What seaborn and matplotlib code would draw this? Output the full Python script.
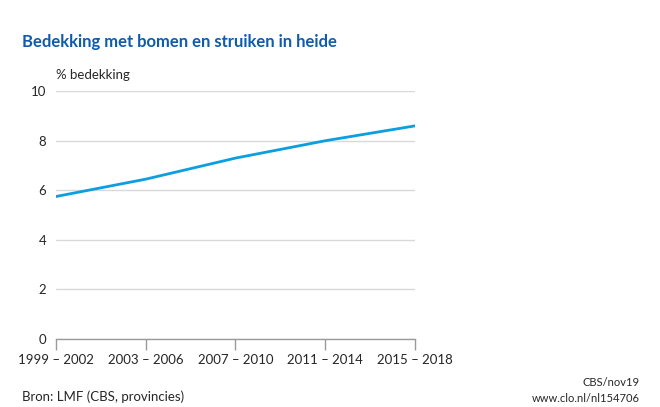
import matplotlib
matplotlib.use("Agg")
import matplotlib.pyplot as plt
import seaborn as sns
import pandas as pd

periods = ["1999 – 2002", "2003 – 2006", "2007 – 2010", "2011 – 2014", "2015 – 2018"]
coverage = [5.75, 6.45, 7.3, 8.0, 8.6]

df = pd.DataFrame({"periode": range(len(periods)), "bedekking": coverage})

sns.set_style("white")
plt.rcParams["font.family"] = ["Lato", "DejaVu Sans"]

fig = plt.figure(figsize=(6.6, 4.07), dpi=100)
ax = fig.add_axes([0.0848, 0.167, 0.544, 0.609])

sns.lineplot(data=df, x="periode", y="bedekking", ax=ax, color="#0b9ee0", linewidth=2)

ax.set_xlim(0, len(periods) - 1)
ax.set_ylim(0, 10)
ax.set_yticks([0, 2, 4, 6, 8, 10])
ax.set_xticks(range(len(periods)))
ax.set_xticklabels(periods)
ax.grid(axis="y", color="#d9d9d9", linewidth=1)
ax.grid(axis="x", visible=False)
for s in ["top", "right", "left"]:
    ax.spines[s].set_visible(False)
ax.spines["bottom"].set_color("#9a9a9a")
ax.spines["bottom"].set_linewidth(1)
ax.tick_params(axis="x", bottom=True, length=8, width=1, color="#9a9a9a", direction="out",
               labelsize=9.5, pad=3)
ax.tick_params(axis="y", left=False, length=0, labelsize=9.5, pad=7)
ax.set_xlabel("")
ax.set_ylabel("")

fig.text(22 / 660, 1 - 42 / 407, "Bedekking met bomen en struiken in heide",
         color="#0d5cad", fontsize=12, fontweight="bold", va="center")
fig.text(56 / 660, 1 - 75 / 407, "% bedekking", fontsize=9.5, va="center")
fig.text(22 / 660, 1 - 397 / 407, "Bron: LMF (CBS, provincies)", fontsize=9.5, va="center")
fig.text(640 / 660, 1 - 383 / 407, "CBS/nov19", fontsize=8, va="center", ha="right")
fig.text(640 / 660, 1 - 398 / 407, "www.clo.nl/nl154706", fontsize=8, va="center", ha="right")

fig.savefig("out.png", dpi=100)
